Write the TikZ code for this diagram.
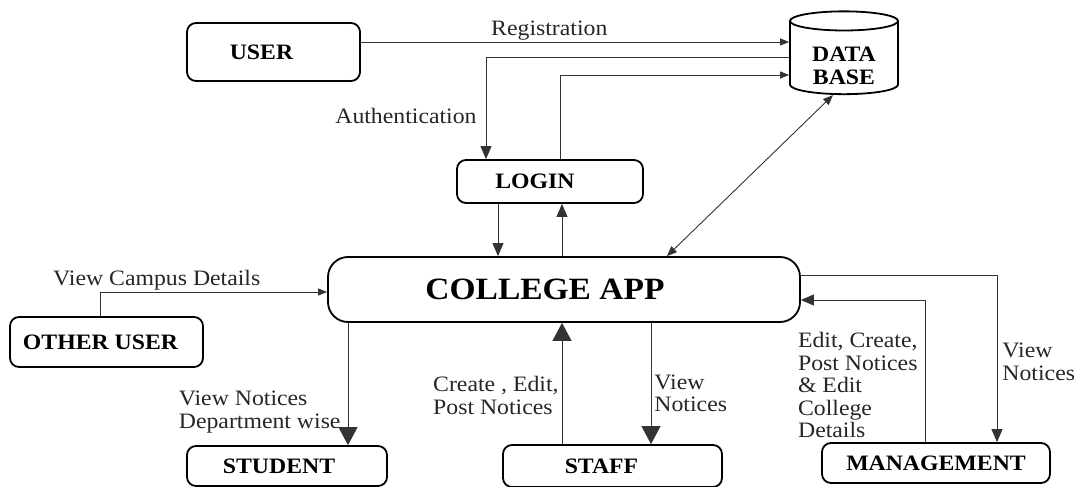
\documentclass[tikz,border=0pt]{standalone}
\usepackage{fontspec}
\setmainfont{Liberation Serif}[FakeStretch=1.08]
\usetikzlibrary{arrows.meta,shapes.geometric}
\newcommand\lftshift[2]{#2\hspace*{#1}}
\begin{document}
\begin{tikzpicture}[x=1pt,y=-1pt,
  box/.style={draw, line width=1.8pt, rounded corners=9pt, font=\fontsize{22}{24}\selectfont\bfseries, inner sep=0pt},
  lab/.style={font=\fontsize{22}{22.5}\selectfont, align=left, inner sep=1pt, text=black!85},
  con/.style={draw=black!80, line width=0.9pt},
  sa/.style={con, -{Triangle[length=9pt,width=7pt]}},
  sab/.style={con, {Triangle[length=10pt,width=8pt]}-{Triangle[length=10pt,width=8pt]}},
  ma/.style={con, -{Triangle[length=13pt,width=11pt]}},
  ba/.style={con, -{Triangle[length=18pt,width=19pt]}},
]
\useasboundingbox[fill=white] (0,0) rectangle (1077,487);

% nodes
\node[box, minimum width=173pt, minimum height=58pt] (user) at (273.5,52) {\lftshift{24pt}{USER}};
\node[draw, line width=1.8pt, cylinder, shape border rotate=90, aspect=0.3,
      minimum width=108pt, minimum height=82pt, align=center, inner sep=0pt,
      font=\fontsize{22}{23}\selectfont\bfseries] (db) at (844,58) {\rule{0pt}{30pt}DATA\\BASE};
\node[box, minimum width=186pt, minimum height=43pt] (login) at (550,181.5) {\lftshift{30pt}{LOGIN}};
\node[box, rounded corners=20pt, minimum width=472pt, minimum height=65pt,
      font=\fontsize{31}{34}\selectfont\bfseries] (app) at (564,289.5) {\lftshift{38pt}{COLLEGE APP}};
\node[box, minimum width=193pt, minimum height=50pt] (other) at (106.5,342) {\lftshift{12pt}{OTHER USER}};
\node[box, minimum width=200pt, minimum height=40pt] (student) at (287,466) {\lftshift{16pt}{STUDENT}};
\node[box, minimum width=219pt, minimum height=42pt] (staff) at (612.5,466) {\lftshift{22pt}{STAFF}};
\node[box, minimum width=228pt, minimum height=40pt] (mgmt) at (936,463) {MANAGEMENT};

% connectors
\draw[sa] ([yshift=10pt]user.east) -- ([yshift=10pt]user.east -| db.west)
  node[lab, above, pos=0.44] {Registration};
\draw[ma] ([yshift=1pt]db.west) -| ([xshift=-64pt]login.north)
  node[lab, left=8pt, pos=0.79] {Authentication};
\draw[sa] ([xshift=10pt]login.north) |- ([yshift=-17pt]db.west);
\draw[sab] ([xshift=103pt]app.north) -- ([xshift=-11pt]db.south);

\draw[ma] ([xshift=-52pt]login.south) -- ([xshift=-52pt]login.south |- app.north);
\draw[ma] ([xshift=12pt]login.south |- app.north) -- ([xshift=12pt]login.south);

\draw[sa] ([xshift=-6.5pt]other.north) |- ([yshift=-2.5pt]app.west)
  node[lab, above, pos=0.625] {View Campus Details};

\draw[ba] ([xshift=61pt]student.north |- app.south) -- ([xshift=61pt]student.north)
  node[lab, left=6pt, pos=0.73] {View Notices\\Department wise};

\draw[ba] ([xshift=-50.5pt]staff.north) -- ([xshift=-50.5pt]staff.north |- app.south)
  node[lab, left=2pt, pos=0.4] {Create , Edit,\\Post Notices};
\draw[ba] ([xshift=38.5pt]staff.north |- app.south) -- ([xshift=38.5pt]staff.north)
  node[lab, right=2pt, pos=0.58] {View\\Notices};

\draw[ma] ([yshift=14.5pt]app.east) -| ([xshift=61pt]mgmt.north)
  node[lab, right=4pt, pos=0.76] {View\\Notices};
\draw[ma] ([xshift=-11pt]mgmt.north) |- ([yshift=-10.5pt]app.east)
  node[lab, left=6pt, pos=0.2] {Edit, Create,\\Post Notices\\\& Edit\\College\\Details};
\end{tikzpicture}
\end{document}
